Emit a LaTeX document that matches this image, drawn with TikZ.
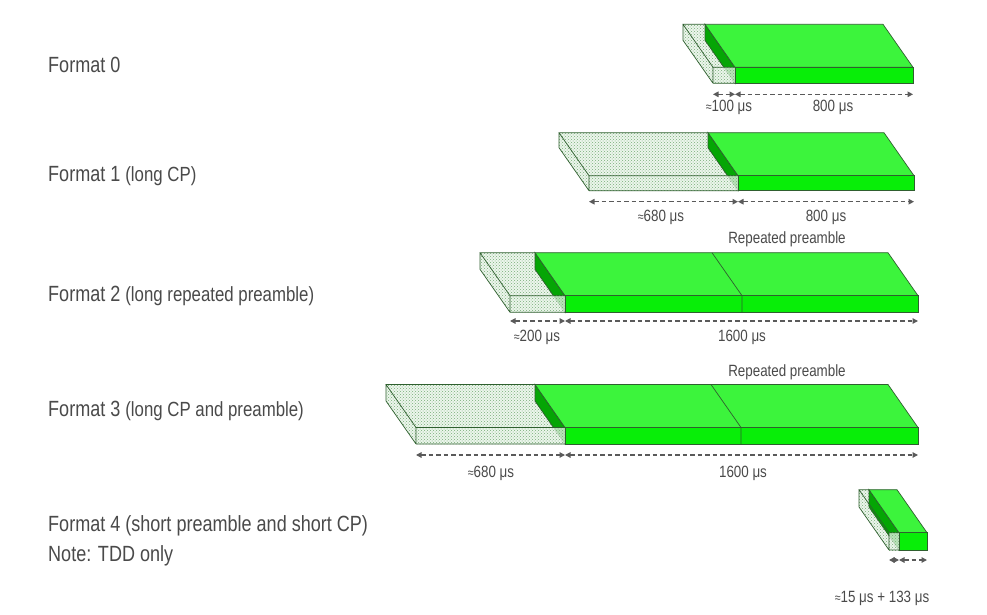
\documentclass[tikz,border=0pt]{standalone}
\usepackage{fontspec}
\setmainfont{Liberation Sans}[FakeStretch=0.82]
\usetikzlibrary{patterns,arrows.meta}
\definecolor{txt}{HTML}{4A4A4A}
\definecolor{dimc}{HTML}{5A5A5A}
\definecolor{edgec}{HTML}{2F5F2F}
\definecolor{gtopc}{HTML}{3CF43C}
\definecolor{gfrontc}{HTML}{08EE08}
\definecolor{gsidec}{HTML}{05A505}
\definecolor{cpbg}{HTML}{E6F4E6}
\definecolor{cpdot}{HTML}{78AC78}
\tikzset{
  lbl/.style={text=txt, inner sep=0pt, anchor=base west, font=\fontsize{22}{26}\selectfont},
  dimlbl/.style={text=txt, inner sep=0pt, anchor=base, font=\fontsize{16.3}{19}\selectfont},
  cpface/.style={preaction={fill=cpbg, fill opacity=0.75}, pattern=crosshatch dots, pattern color=cpdot},
  cpfrontface/.style={preaction={fill=cpbg, fill opacity=0.8}, pattern=crosshatch dots, pattern color=cpdot},
  gside/.style={fill=gsidec, draw=edgec, line width=0.7pt},
  gtop/.style={fill=gtopc, draw=edgec, line width=0.7pt},
  gfront/.style={fill=gfrontc, draw=edgec, line width=0.7pt},
  edge/.style={draw=edgec, line width=0.7pt},
  dimarrow/.style={draw=dimc, line width=1.2pt, dash pattern=on 4.5pt off 3pt,
    arrows={Triangle[length=5.5pt,width=5.5pt]-Triangle[length=5.5pt,width=5.5pt]}}
}
\newcommand\paren{\fontsize{20.5}{24}\selectfont}
\newcommand\apx{{\fontsize{13}{14}\selectfont ≈}}
% #1 xl, #2 xc, #3 xd (0 = none), #4 xr, #5 yt, #6 yb
\newcommand\prachblk[6]{%
  \path[cpface] (#1,#5) -- (#1-30,#5-43) -- (#1-30,#6-43) -- (#1,#6) -- cycle;
  \path[cpface] (#1,#5) -- (#1-30,#5-43) -- (#2-30,#5-43) -- (#2,#5) -- cycle;
  \path[gside] (#2,#5) -- (#2-30,#5-43) -- (#2-30,#6-43) -- (#2,#6) -- cycle;
  \path[cpfrontface] (#1,#5) rectangle (#2,#6);
  \draw[edge] (#1,#6) -- (#1,#5) -- (#2,#5) (#1,#6) -- (#2,#6)
    (#1,#5) -- (#1-30,#5-43) -- (#2-30,#5-43) (#1-30,#5-43) -- (#1-30,#6-43) -- (#1,#6);
  \path[gtop] (#2,#5) -- (#2-30,#5-43) -- (#4-30,#5-43) -- (#4,#5) -- cycle;
  \path[gfront] (#2,#5) rectangle (#4,#6);
  \ifnum#3>0 \draw[edge] (#3-30,#5-43) -- (#3,#5) -- (#3,#6);\fi
}
\begin{document}
\begin{tikzpicture}[x=1pt,y=-1pt]
\useasboundingbox[fill=white] (0,0) rectangle (987,615);

% ---------- labels on the left
\node[lbl] (f0) at (48,72.5) {Format 0};
\node[lbl] (f1) at (48,181.5) {Format 1 {\paren (long CP)}};
\node[lbl] (f2) at (48,301.7) {Format 2 {\paren (long repeated preamble)}};
\node[lbl] (f3) at (48,416.7) {Format 3 {\paren (long CP and preamble)}};
\node[lbl] (f4) at (48,531.7) {Format 4 (short preamble and short CP)};
\node[lbl] (note) at (48,561.7) {Note: TDD only};

% ---------- Format 0
\prachblk{713}{735}{0}{913}{67.3}{83.3}
\coordinate (a0l) at (713,94.3);
\coordinate (a0m) at (735,94.3);
\coordinate (a0r) at (913,94.3);
\draw[dimarrow] (a0l) -- (a0m);
\draw[dimarrow] (a0m) -- (a0r);
\node[dimlbl] (d0a) at (729,112) {\apx100 μs};
\node[dimlbl] (d0b) at (833,112) {800 μs};

% ---------- Format 1
\prachblk{589}{738}{0}{914}{175.7}{190.7}
\coordinate (a1l) at (589,201.7);
\coordinate (a1m) at (738,201.7);
\coordinate (a1r) at (914,201.7);
\draw[dimarrow] (a1l) -- (a1m);
\draw[dimarrow] (a1m) -- (a1r);
\node[dimlbl] (d1a) at (661,221) {\apx680 μs};
\node[dimlbl] (d1b) at (826,221) {800 μs};
\node[dimlbl] (r2) at (787,243) {Repeated preamble};

% ---------- Format 2
\prachblk{510}{565}{742}{918}{295.7}{312.3}
\coordinate (a2l) at (510,321);
\coordinate (a2m) at (565,321);
\coordinate (a2r) at (918,321);
\draw[dimarrow] (a2l) -- (a2m);
\draw[dimarrow] (a2m) -- (a2r);
\node[dimlbl] (d2a) at (537,341.7) {\apx200 μs};
\node[dimlbl] (d2b) at (742,341.7) {1600 μs};

% ---------- Format 3
\node[dimlbl] (r3) at (787,376) {Repeated preamble};
\prachblk{416}{565}{741}{918}{427.5}{444}
\coordinate (a3l) at (416,455);
\coordinate (a3m) at (565,455);
\coordinate (a3r) at (918,455);
\draw[dimarrow] (a3l) -- (a3m);
\draw[dimarrow] (a3m) -- (a3r);
\node[dimlbl] (d3a) at (491,477.5) {\apx680 μs};
\node[dimlbl] (d3b) at (743,477.5) {1600 μs};

% ---------- Format 4
\prachblk{889}{899}{0}{927}{532.7}{550}
\coordinate (a4l) at (889,560);
\coordinate (a4m) at (899,560);
\coordinate (a4r) at (927,560);
\draw[dimarrow] (a4l) -- (a4m);
\draw[dimarrow] (a4m) -- (a4r);
\node[dimlbl] (d4) at (882,602.5) {\apx15 μs + 133 μs};
\end{tikzpicture}
\end{document}
